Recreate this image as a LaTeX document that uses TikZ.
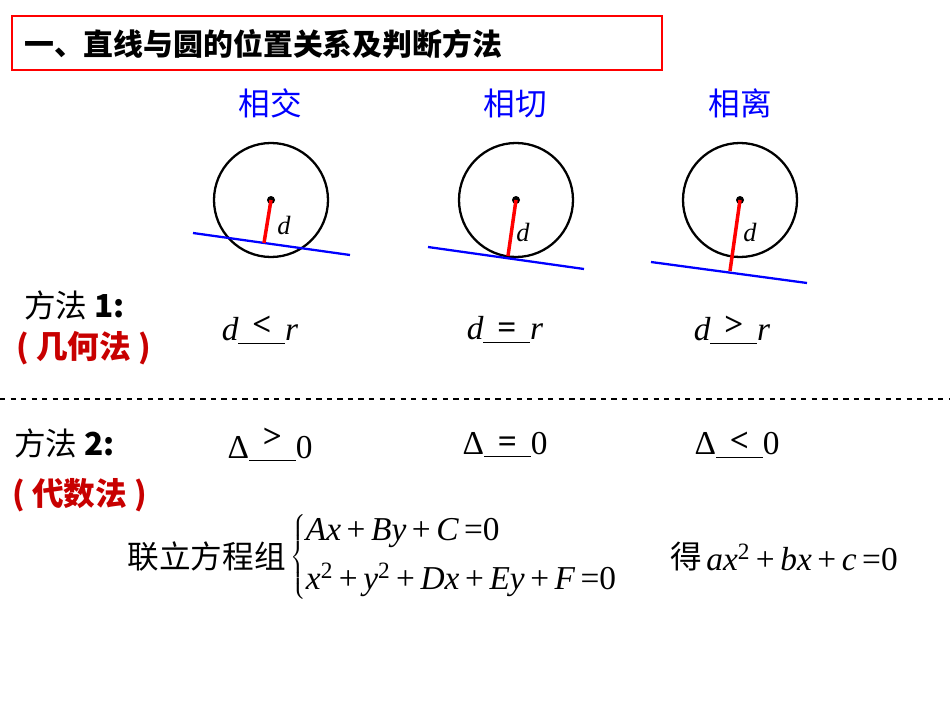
\documentclass[tikz,border=0pt]{standalone}
\usepackage{fontspec}
\setmainfont{Liberation Sans}
\newfontfamily\cjk{Noto Sans CJK SC}
\newfontfamily\tms{Liberation Serif}
\definecolor{darkred}{RGB}{200,0,0}
\newcommand{\vi}[1]{{\tms\itshape #1}}
\newcommand{\pl}{\,{\tms+}\,}
\newcommand{\eqs}{\,{\tms=}}
\tikzset{
  cn/.style={font=\cjk\fontsize{18}{21}\selectfont},
  ttl/.style={font=\cjk\bfseries\fontsize{17}{20}\selectfont},
  mth/.style={font=\tms\fontsize{19}{22}\selectfont},
  dlab/.style={font=\tms\itshape\fontsize{15}{18}\selectfont},
  circ/.style={line width=1.3pt},
  tang/.style={blue, line width=1.3pt},
  dist/.style={red, line width=2pt}
}
\begin{document}
\begin{tikzpicture}[x=0.02cm,y=-0.02cm]
  \useasboundingbox (0,0) rectangle (950,713);
  % 标题
  \draw[red, thick] (12,16) rectangle (662,70);
  \node[ttl, anchor=west] (title) at (18,44) {一、直线与圆的位置关系及判断方法};

  % 三种位置关系
  \node[cn, blue] (jiao) at (270,103) {相交};
  \node[cn, blue] (qie) at (515,103) {相切};
  \node[cn, blue] (li) at (740,103) {相离};

  % 圆、直线和距离 d
  \draw[circ] (271,200) circle (57);
  \fill (271,200) circle (4);
  \draw[tang] (193,233) -- (350,255);
  \draw[dist] (271,200) -- (264,243);
  \node[dlab] (d1) at (284,225) {d};

  \draw[circ] (516,200) circle (57);
  \fill (516,200) circle (4);
  \draw[tang] (428,247) -- (584,269);
  \draw[dist] (516,200) -- (508,256);
  \node[dlab] (d2) at (523,232) {d};

  \draw[circ] (740,200) circle (57);
  \fill (740,200) circle (4);
  \draw[tang] (651,262) -- (807,283);
  \draw[dist] (740,200) -- (730,271);
  \node[dlab] (d3) at (750,232) {d};

  % 方法 1
  \node[cn, anchor=west] (m1) at (18,305) {方法 \textbf{1:}};
  \node[cn, darkred, anchor=west] (geo) at (10,348) {\textbf{( 几何法 )}};
  \node[mth] (r1) at (260,330) {\vi{d}\underline{\hbox to 1.4em{\hss\raisebox{3pt}{\textbf{<}}\hss}}\vi{r}};
  \node[mth] (r2) at (505,330) {\vi{d}\underline{\hbox to 1.4em{\hss\raisebox{1pt}{\textbf{=}}\hss}}\vi{r}};
  \node[mth] (r3) at (732,330) {\vi{d}\underline{\hbox to 1.4em{\hss\raisebox{3pt}{\textbf{>}}\hss}}\vi{r}};

  \draw[dashed, thick] (0,399) -- (950,399);

  % 方法 2
  \node[cn, anchor=west] (m2) at (8,443) {方法 \textbf{2:}};
  \node[cn, darkred, anchor=west] (alg) at (6,495) {\textbf{( 代数法 )}};
  \node[mth] (s1) at (270,445) {Δ\underline{\hbox to 1.4em{\hss\raisebox{6pt}{\textbf{>}}\hss}}0};
  \node[mth] (s2) at (505,445) {Δ\underline{\hbox to 1.4em{\hss\raisebox{1pt}{\textbf{=}}\hss}}0};
  \node[mth] (s3) at (737,445) {Δ\underline{\hbox to 1.4em{\hss\raisebox{2pt}{\textbf{<}}\hss}}0};

  % 方程组
  \node[cn, anchor=east] (lian) at (292,557) {联立方程组};
  \node[mth, anchor=west, inner sep=0pt] (sys) at (290,557)
    {$\left\{\begin{array}{@{}l@{}}\hbox{\vi{Ax}\pl\vi{By}\pl\vi{C}\eqs 0}\\[6pt]
      \hbox{\vi{x}\textsuperscript{2}\pl\vi{y}\textsuperscript{2}\pl\vi{Dx}\pl\vi{Ey}\pl\vi{F}\eqs 0}\end{array}\right.$};
  \node[cn, anchor=west, inner sep=0pt] (de) at (670,557) {得};
  \node[mth, anchor=west, inner sep=0pt] (quad) at (706,557) {\vi{ax}\textsuperscript{2}\pl\vi{bx}\pl\vi{c}\eqs 0};
\end{tikzpicture}
\end{document}
